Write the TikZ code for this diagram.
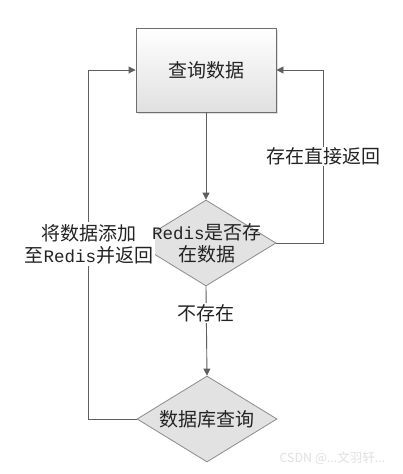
\documentclass[tikz,border=0pt]{standalone}
\usepackage{fontspec}
\setmainfont{Noto Sans CJK SC}
\newfontfamily\monofnt{Liberation Mono}
\usetikzlibrary{arrows.meta,shapes.geometric,shadows}
\definecolor{edgegray}{RGB}{95,95,95}
\definecolor{boxborder}{RGB}{110,110,110}
\definecolor{dfill}{RGB}{226,226,226}
\definecolor{txt}{RGB}{35,35,35}
\newcommand{\rds}{{\monofnt\fontsize{17.5}{22}\selectfont Redis}}
\tikzset{
  procbox/.style={draw=boxborder, line width=0.9pt, top color=white, bottom color=black!12,
    minimum width=140pt, minimum height=84pt, inner sep=0pt, text=txt,
    drop shadow={shadow xshift=2pt, shadow yshift=-2pt, opacity=0.25}},
  decide/.style={draw=boxborder!80, line width=0.8pt, fill=dfill, diamond, aspect=1.64,
    minimum width=140pt, minimum height=86pt, inner sep=0pt, text=txt},
  conn/.style={draw=edgegray, line width=0.9pt, -{Triangle[length=7pt,width=7pt]}},
  bigfont/.style={font=\fontsize{19}{22}\selectfont},
  lab/.style={fill=white, inner sep=1pt, text=txt, bigfont, align=center}
}
\begin{document}
\begin{tikzpicture}[x=1pt,y=-1pt]
\useasboundingbox (0,0) rectangle (402,474);
\fill[white] (0,0) rectangle (402,474);
\node[procbox, bigfont] (q) at (206,70) {查询数据};
\node[decide] (d1) at (206,243) {};
\node[decide] (d2) at (207,419) {};
\coordinate (r1) at (323,243);
\coordinate (r2) at (323,70);
\coordinate (l1) at (88,419);
\coordinate (l2) at (88,70);
\draw[conn] (q.south) -- (d1.north);
\draw[conn] (d1.south) -- (d2.north) node[lab, pos=0.3] (nl) {不存在};
\draw[conn] (d1.east) -- (r1) -- node[lab, pos=0.5] (yl) {存在直接返回} (r2) -- (q.east);
\draw[conn] (d2.west) -- (l1) -- (l2) -- (q.west);
\node[lab, inner sep=2pt] (al) at (89,244) {将数据添加\\至\rds 并返回};
\node[text=txt, bigfont, align=center] (t1) at (207,243) {\rds 是否存\\在数据};
\node[text=txt, bigfont] (t2) at (207,419) {数据库查询};
\node[text=black!12, font=\fontsize{12.5}{14}\selectfont, anchor=west] (wm) at (276,458) {CSDN @...文羽轩...};
\end{tikzpicture}
\end{document}
